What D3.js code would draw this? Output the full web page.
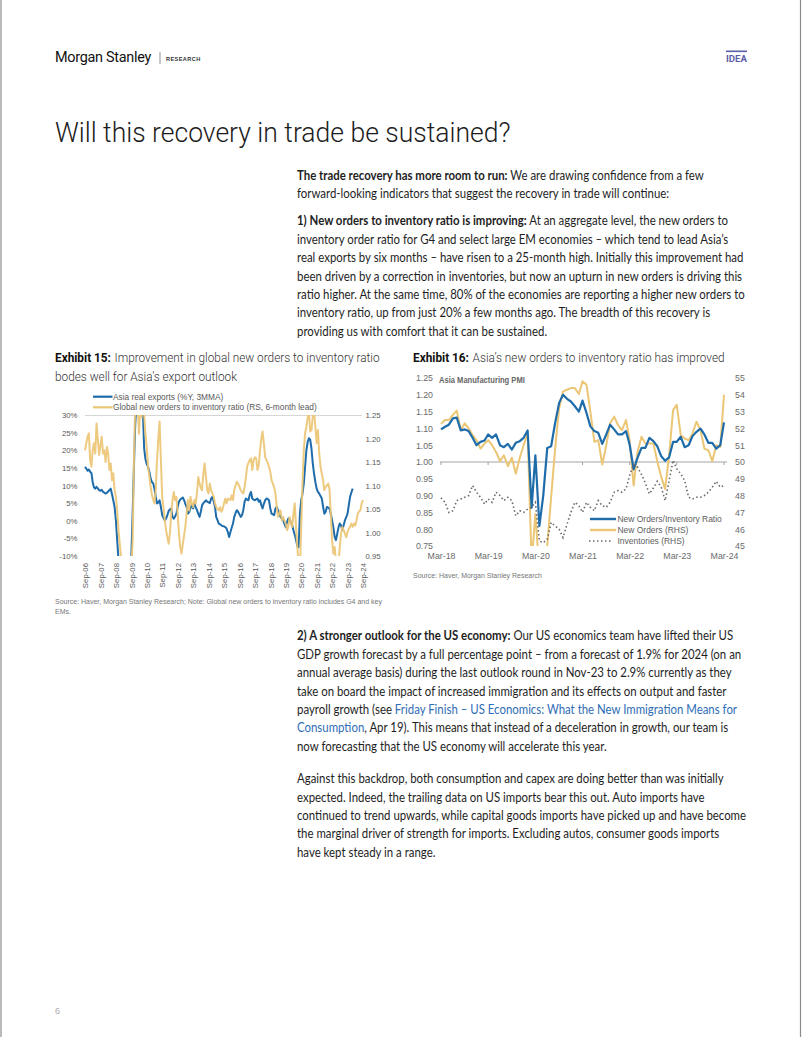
<!DOCTYPE html>
<html><head><meta charset="utf-8">
<script src="https://cdn.jsdelivr.net/npm/d3@7"></script>
<style>
html,body{margin:0;padding:0;background:#fff;}
svg{display:block;}
</style></head><body>
<svg id="page" width="802" height="1037"></svg>
<script>
// ---------------- DATA ----------------
// Exhibit 15: Asia real exports (%Y, 3MMA), left axis
const asiaExports = [
["2006-09",15.3],["2006-10",14.8],["2006-11",14.2],["2006-12",14.5],["2007-01",13.9],["2007-02",13.5],["2007-03",11.0],["2007-04",9.5],["2007-05",9.1],["2007-06",9.6],["2007-07",9.2],["2007-08",8.7],["2007-09",8.5],["2007-10",8.8],["2007-11",8.2],["2007-12",8.0],
["2008-01",7.7],["2008-02",7.9],["2008-03",8.3],["2008-04",8.7],["2008-05",9.1],["2008-06",7.5],["2008-07",5.8],["2008-08",3.9],["2008-09",0.1],["2008-10",-5.5],["2008-11",-11],["2008-12",-18],
["2009-01",-24],["2009-02",-27],["2009-03",-25],["2009-04",-22],["2009-05",-19],["2009-06",-16],["2009-07",-13],["2009-08",-11],["2009-09",-10],["2009-10",2],["2009-11",15],["2009-12",27],
["2010-01",34],["2010-02",38],["2010-03",36],["2010-04",34],["2010-05",32],["2010-06",31],["2010-07",20.5],["2010-08",17.5],["2010-09",16],["2010-10",15.3],["2010-11",13.9],["2010-12",12],
["2011-01",11],["2011-02",10.6],["2011-03",9.1],["2011-04",6.8],["2011-05",4.9],["2011-06",5.2],["2011-07",5.8],["2011-08",3.9],["2011-09",1.6],["2011-10",0.8],["2011-11",0.1],["2011-12",0.6],
["2012-01",1.6],["2012-02",2.8],["2012-03",3.2],["2012-04",3.5],["2012-05",1.1],["2012-06",0.6],["2012-07",1.2],["2012-08",2],["2012-09",3.9],["2012-10",5.4],["2012-11",6.0],["2012-12",6.3],
["2013-01",6.6],["2013-02",5.8],["2013-03",4.8],["2013-04",3.9],["2013-05",2],["2013-06",2.5],["2013-07",3.6],["2013-08",4.4],["2013-09",3.5],["2013-10",4.9],["2013-11",3.9],["2013-12",3.0],
["2014-01",2],["2014-02",1.1],["2014-03",2.5],["2014-04",4.4],["2014-05",5.0],["2014-06",5.4],["2014-07",5.8],["2014-08",5.4],["2014-09",5.2],["2014-10",5.0],["2014-11",6.3],["2014-12",6.8],
["2015-01",5.5],["2015-02",3.9],["2015-03",1.1],["2015-04",0.2],["2015-05",-0.8],["2015-06",-1.0],["2015-07",-1.3],["2015-08",-1.5],["2015-09",-1.6],["2015-10",-1.8],["2015-11",-2.2],["2015-12",-3.2],
["2016-01",-4.6],["2016-02",-3.2],["2016-03",-2.0],["2016-04",-0.8],["2016-05",1.1],["2016-06",2.2],["2016-07",3.0],["2016-08",2.5],["2016-09",1.8],["2016-10",1.1],["2016-11",1.6],["2016-12",3.0],
["2017-01",5.4],["2017-02",6.3],["2017-03",6.0],["2017-04",5.8],["2017-05",7.3],["2017-06",8.2],["2017-07",6.3],["2017-08",6.0],["2017-09",5.8],["2017-10",6.1],["2017-11",6.3],["2017-12",5.4],
["2018-01",5.8],["2018-02",4.4],["2018-03",3.5],["2018-04",4.8],["2018-05",5.8],["2018-06",6.3],["2018-07",6.2],["2018-08",5.8],["2018-09",3.5],["2018-10",2.0],["2018-11",1.8],["2018-12",1.6],
["2019-01",3.5],["2019-02",3.9],["2019-03",3.0],["2019-04",2.0],["2019-05",1.1],["2019-06",0.6],["2019-07",0.1],["2019-08",-0.8],["2019-09",-1.8],["2019-10",-0.4],["2019-11",0.6],["2019-12",0.3],
["2020-01",-0.4],["2020-02",-1.3],["2020-03",-2.7],["2020-04",-4.0],["2020-05",-5.5],["2020-06",-7.2],["2020-07",-7.5],["2020-08",2],["2020-09",5.8],["2020-10",7.7],["2020-11",10.6],["2020-12",15.3],
["2021-01",20],["2021-02",22.4],["2021-03",23.4],["2021-04",23],["2021-05",20.5],["2021-06",16.3],["2021-07",13.4],["2021-08",11],["2021-09",9.1],["2021-10",8.2],["2021-11",7.7],["2021-12",7.0],
["2022-01",6.3],["2022-02",3.9],["2022-03",2],["2022-04",2.5],["2022-05",3.9],["2022-06",3.7],["2022-07",3.5],["2022-08",2],["2022-09",0.1],["2022-10",-1.8],["2022-11",-4.6],["2022-12",-5.5],
["2023-01",-3.7],["2023-02",-1.8],["2023-03",-0.8],["2023-04",-1.3],["2023-05",-2.7],["2023-06",-1.3],["2023-07",0.1],["2023-08",1.0],["2023-09",2],["2023-10",4.4],["2023-11",6.8],["2023-12",8.0],
["2024-01",9.1]
];
// Exhibit 15: Global new orders to inventory ratio (RS, 6-month lead)
const globalNoInv = [
["2006-09",1.175],["2006-10",1.19],["2006-11",1.204],["2006-12",1.211],["2007-01",1.154],["2007-02",1.14],["2007-03",1.175],["2007-04",1.19],["2007-05",1.168],["2007-06",1.232],["2007-07",1.197],["2007-08",1.165],["2007-09",1.186],["2007-10",1.204],["2007-11",1.168],["2007-12",1.175],
["2008-01",1.15],["2008-02",1.182],["2008-03",1.168],["2008-04",1.133],["2008-05",1.147],["2008-06",1.111],["2008-07",1.126],["2008-08",1.09],["2008-09",1.076],["2008-10",1.047],["2008-11",1.005],["2008-12",0.976],
["2009-01",0.948],["2009-02",0.90],["2009-03",0.86],["2009-04",0.84],["2009-05",0.85],["2009-06",0.88],["2009-07",0.92],["2009-08",0.93],["2009-09",0.93],["2009-10",0.98],["2009-11",1.15],["2009-12",1.27],
["2010-01",1.30],["2010-02",1.26],["2010-03",1.21],["2010-04",1.27],["2010-05",1.245],["2010-06",1.28],["2010-07",1.25],["2010-08",1.21],["2010-09",1.18],["2010-10",1.14],["2010-11",1.12],["2010-12",1.097],
["2011-01",1.08],["2011-02",1.069],["2011-03",1.062],["2011-04",1.09],["2011-05",1.154],["2011-06",1.20],["2011-07",1.236],["2011-08",1.154],["2011-09",1.076],["2011-10",1.054],["2011-11",1.026],["2011-12",1.005],
["2012-01",0.99],["2012-02",0.976],["2012-03",0.998],["2012-04",1.04],["2012-05",1.069],["2012-06",1.086],["2012-07",1.069],["2012-08",1.076],["2012-09",1.04],["2012-10",0.998],["2012-11",0.969],["2012-12",0.955],
["2013-01",0.976],["2013-02",0.995],["2013-03",1.012],["2013-04",1.04],["2013-05",1.069],["2013-06",1.047],["2013-07",1.076],["2013-08",1.062],["2013-09",1.054],["2013-10",1.069],["2013-11",1.062],["2013-12",1.083],
["2014-01",1.118],["2014-02",1.104],["2014-03",1.095],["2014-04",1.09],["2014-05",1.126],["2014-06",1.147],["2014-07",1.118],["2014-08",1.09],["2014-09",1.083],["2014-10",1.104],["2014-11",1.09],["2014-12",1.083],
["2015-01",1.076],["2015-02",1.062],["2015-03",1.054],["2015-04",1.05],["2015-05",1.047],["2015-06",1.054],["2015-07",1.044],["2015-08",1.05],["2015-09",1.062],["2015-10",1.072],["2015-11",1.062],["2015-12",1.072],
["2016-01",1.07],["2016-02",1.069],["2016-03",1.079],["2016-04",1.069],["2016-05",1.09],["2016-06",1.10],["2016-07",1.108],["2016-08",1.104],["2016-09",1.097],["2016-10",1.09],["2016-11",1.086],["2016-12",1.083],
["2017-01",1.097],["2017-02",1.118],["2017-03",1.14],["2017-04",1.148],["2017-05",1.154],["2017-06",1.158],["2017-07",1.133],["2017-08",1.154],["2017-09",1.16],["2017-10",1.158],["2017-11",1.133],["2017-12",1.143],
["2018-01",1.175],["2018-02",1.20],["2018-03",1.215],["2018-04",1.19],["2018-05",1.161],["2018-06",1.154],["2018-07",1.148],["2018-08",1.14],["2018-09",1.129],["2018-10",1.111],["2018-11",1.104],["2018-12",1.095],
["2019-01",1.083],["2019-02",1.054],["2019-03",1.033],["2019-04",1.04],["2019-05",1.047],["2019-06",1.026],["2019-07",1.033],["2019-08",1.025],["2019-09",1.019],["2019-10",1.005],["2019-11",1.012],["2019-12",1.033],
["2020-01",1.02],["2020-02",1.012],["2020-03",1.04],["2020-04",1.062],["2020-05",1.012],["2020-06",0.969],["2020-07",0.93],["2020-08",0.92],["2020-09",1.012],["2020-10",1.104],["2020-11",1.175],["2020-12",1.21],
["2021-01",1.225],["2021-02",1.245],["2021-03",1.26],["2021-04",1.215],["2021-05",1.218],["2021-06",1.246],["2021-07",1.26],["2021-08",1.225],["2021-09",1.19],["2021-10",1.218],["2021-11",1.168],["2021-12",1.14],
["2022-01",1.125],["2022-02",1.111],["2022-03",1.09],["2022-04",1.097],["2022-05",1.10],["2022-06",1.104],["2022-07",1.093],["2022-08",1.04],["2022-09",0.983],["2022-10",0.955],["2022-11",0.969],["2022-12",0.94],
["2023-01",0.92],["2023-02",0.93],["2023-03",0.969],["2023-04",0.998],["2023-05",1.012],["2023-06",1.005],["2023-07",0.998],["2023-08",0.99],["2023-09",1.001],["2023-10",1.008],["2023-11",1.012],["2023-12",1.019],
["2024-01",1.012],["2024-02",1.019],["2024-03",1.015],["2024-04",1.026],["2024-05",1.04],["2024-06",1.045],["2024-07",1.047],["2024-08",1.062],["2024-09",1.069]
];
const yTicks15L = [30,25,20,15,10,5,0,-5,-10];
const yTicks15R = [1.25,1.20,1.15,1.10,1.05,1.00,0.95];
const xLabels15 = ["Sep-06","Sep-07","Sep-08","Sep-09","Sep-10","Sep-11","Sep-12","Sep-13","Sep-14","Sep-15","Sep-16","Sep-17","Sep-18","Sep-19","Sep-20","Sep-21","Sep-22","Sep-23","Sep-24"];

// Exhibit 16: Asia Manufacturing PMI, monthly from Mar-18 to Mar-24
const pmiStart = "2018-03";
const noInvRatio = [1.097,1.105,1.111,1.13,1.132,1.094,1.097,1.092,1.072,1.05,1.06,1.064,
 1.082,1.072,1.082,1.05,1.044,1.054,1.037,1.057,1.062,1.072,1.094,0.864,
 1.02,0.81,0.90,1.042,1.047,1.116,1.176,1.2,1.188,1.18,1.166,1.15,
 1.183,1.146,1.106,1.092,1.087,1.054,1.082,1.111,1.097,1.082,1.082,1.092,
 1.052,0.978,1.012,1.042,1.042,1.072,1.062,1.047,1.017,1.004,1.014,1.06,
 1.06,1.075,1.044,1.05,1.077,1.09,1.099,1.082,1.057,1.057,1.04,1.05,1.118];
const newOrders = [52.27,52.5,52.5,52.8,53.06,51.9,52.3,52.0,51.6,51.3,50.8,51.1,
 51.3,51.0,50.6,50.05,50.4,49.75,50.25,49.3,50.25,51.0,51.7,44.0,
 46.9,43.5,44.0,45.0,47.9,50.8,53.2,54.2,54.3,54.4,54.4,54.05,
 54.8,54.6,53.0,51.2,51.3,49.85,51.0,52.3,52.7,52.2,51.9,52.5,
 51.3,48.6,50.6,51.5,51.1,51.1,51.1,50.05,49.1,48.4,50.4,53.1,
 53.4,51.6,51.4,51.3,51.7,52.4,51.9,50.8,50.7,50.05,51.0,50.9,54.0];
const inventories = [47.87,47.6,47.0,47.1,47.7,47.8,47.9,48.0,48.6,48.2,47.9,47.5,
 47.8,47.6,48.2,48.0,47.7,47.9,47.7,46.8,47.1,47.0,47.2,47.3,
 47.6,45.3,45.2,45.4,46.4,46.2,46.0,45.5,46.3,47.0,47.6,47.4,
 47.0,47.6,47.3,47.1,47.7,47.4,47.3,47.6,48.2,48.3,48.2,48.4,
 49.2,49.85,49.7,49.25,48.75,48.1,48.45,48.85,48.5,47.7,48.9,50.1,
 49.6,49.3,48.9,47.9,47.8,47.9,47.9,48.0,48.2,48.5,48.85,48.5,48.6];
const yTicks16L = [1.25,1.20,1.15,1.10,1.05,1.00,0.95,0.90,0.85,0.80,0.75];
const yTicks16R = [55,54,53,52,51,50,49,48,47,46,45];
const xLabels16 = ["Mar-18","Mar-19","Mar-20","Mar-21","Mar-22","Mar-23","Mar-24"];

// ---------------- TEXT ----------------
const para1 = [
 [["The trade recovery has more room to run:","b"],[" We are drawing confidence from a few"]],
 [["forward-looking indicators that suggest the recovery in trade will continue:"]]
];
const para2 = [
 [["1) New orders to inventory ratio is improving:","b"],[" At an aggregate level, the new orders to"]],
 [["inventory order ratio for G4 and select large EM economies – which tend to lead Asia’s"]],
 [["real exports by six months – have risen to a 25-month high. Initially this improvement had"]],
 [["been driven by a correction in inventories, but now an upturn in new orders is driving this"]],
 [["ratio higher. At the same time, 80% of the economies are reporting a higher new orders to"]],
 [["inventory ratio, up from just 20% a few months ago. The breadth of this recovery is"]],
 [["providing us with comfort that it can be sustained."]]
];
const para3 = [
 [["2) A stronger outlook for the US economy:","b"],[" Our US economics team have lifted their US"]],
 [["GDP growth forecast by a full percentage point – from a forecast of 1.9% for 2024 (on an"]],
 [["annual average basis) during the last outlook round in Nov-23 to 2.9% currently as they"]],
 [["take on board the impact of increased immigration and its effects on output and faster"]],
 [["payroll growth (see "],["Friday Finish – US Economics: What the New Immigration Means for","l"]],
 [["Consumption","l"],[", Apr 19). This means that instead of a deceleration in growth, our team is"]],
 [["now forecasting that the US economy will accelerate this year."]]
];
const para4 = [
 [["Against this backdrop, both consumption and capex are doing better than was initially"]],
 [["expected. Indeed, the trailing data on US imports bear this out. Auto imports have"]],
 [["continued to trend upwards, while capital goods imports have picked up and have become"]],
 [["the marginal driver of strength for imports. Excluding autos, consumer goods imports"]],
 [["have kept steady in a range."]]
];

// ---------------- DRAW ----------------
const svg = d3.select("#page");
const BODY = "Lato, 'Open Sans', sans-serif";
const ROBOTO = "Roboto, 'Liberation Sans', sans-serif";
const CHART = "'Liberation Sans', Arial, sans-serif";
const BLUE = "#1f6cab", GOLD = "#ebc675";

svg.append("line").attr("x1",1).attr("x2",1).attr("y1",0).attr("y2",1037).attr("stroke","#8c8c8c").attr("stroke-width",1.2);
svg.append("line").attr("x1",800.5).attr("x2",800.5).attr("y1",0).attr("y2",1037).attr("stroke","#8c8c8c").attr("stroke-width",1.2);

function fitSize(t, target){ const w=t.node().getComputedTextLength(); const fs=parseFloat(t.attr("font-size")); t.attr("font-size", fs*target/w); }
function fitX(t, x, target){ const w=t.node().getComputedTextLength(); t.attr("transform",`translate(${x},0) scale(${target/w},1) translate(${-x},0)`); }

// header
const ms = svg.append("text").attr("x",55).attr("y",62).attr("font-family","Roboto, sans-serif").attr("font-size",14.5).attr("fill","#111").attr("letter-spacing",-0.3).text("Morgan Stanley");
fitX(ms,55,96);
svg.append("line").attr("x1",160).attr("x2",160).attr("y1",52).attr("y2",64).attr("stroke","#777").attr("stroke-width",0.8);
svg.append("text").attr("x",166).attr("y",60.5).attr("font-family",CHART).attr("font-weight",700).attr("font-size",5.6).attr("letter-spacing",0.4).attr("fill","#333").text("RESEARCH");
svg.append("rect").attr("x",726).attr("y",50.5).attr("width",21).attr("height",1.6).attr("fill","#5b5ea8");
const idea = svg.append("text").attr("x",726).attr("y",62).attr("font-family",ROBOTO).attr("font-weight",700).attr("font-size",9.5).attr("fill","#5b5ea8").text("IDEA");
fitX(idea,726,21);

// title
const title = svg.append("text").attr("x",55).attr("y",142).attr("font-family",ROBOTO).attr("font-weight",300).attr("font-size",28.5).attr("fill","#1c1c1c").text("Will this recovery in trade be sustained?");
fitX(title,55,456);

// body text: common horizontal scale determined from the widest line
function measure(lines, idx){
  const t = svg.append("text").attr("font-family",BODY).attr("font-size",13.2);
  lines[idx].forEach(s=>{ const ts=t.append("tspan").text(s[0]); if(s[1]==="b") ts.attr("font-weight",700); });
  const w=t.node().getComputedTextLength(); t.remove(); return w;
}
const bodyScale = 448/measure(para2,4);
function block(x,y0,lh,lines){
  const g = svg.append("g").attr("transform",`translate(${x},0) scale(${bodyScale},1)`);
  lines.forEach((segs,i)=>{
    const t = g.append("text").attr("x",0).attr("y",y0+i*lh).attr("font-family",BODY).attr("font-size",13.2).attr("fill","#1e1e1e");
    segs.forEach(s=>{ const ts=t.append("tspan").text(s[0]); if(s[1]==="b") ts.attr("font-weight",700); if(s[1]==="l") ts.attr("fill","#2f6db6"); });
  });
}
block(297,180,18.4,para1);
block(297,225.5,18.4,para2);
block(297,640.5,18.4,para3);
block(297,783.5,18.3,para4);

// exhibit titles
function exhibit(x, y, num, rest, target, line2){
  const g = svg.append("g");
  const t = g.append("text").attr("x",0).attr("y",y).attr("font-family",ROBOTO).attr("font-size",13).attr("fill","#222");
  t.append("tspan").attr("font-weight",700).attr("fill","#111").text(num);
  t.append("tspan").attr("dx",4).attr("font-weight",300).attr("fill","#333").text(rest);
  const w=t.node().getComputedTextLength()+4;
  const s=target/w;
  if(line2) g.append("text").attr("x",0).attr("y",y+19).attr("font-family",ROBOTO).attr("font-weight",300).attr("font-size",13).attr("fill","#333").text(line2);
  g.attr("transform",`translate(${x},0) scale(${s},1)`);
}
exhibit(55,362,"Exhibit 15:","Improvement in global new orders to inventory ratio",325,"bodes well for Asia’s export outlook");
exhibit(413,362,"Exhibit 16:","Asia’s new orders to inventory ratio has improved",312,null);

// ---------------- CHART 15 ----------------
const parseM = d3.timeParse("%Y-%m");
const parseL = d3.timeParse("%b-%y");
const x15 = d3.scaleTime().domain([parseL(xLabels15[0]), parseL(xLabels15[xLabels15.length-1])]).range([85,363]);
const yL15 = d3.scaleLinear().domain([-10,30]).range([556,415]);
const yR15 = d3.scaleLinear().domain([0.95,1.25]).range([556,415]);
const c15 = svg.append("g");
c15.append("line").attr("x1",85).attr("x2",362).attr("y1",yL15(30)+0.5).attr("y2",yL15(30)+0.5).attr("stroke","#d6d6d6").attr("stroke-width",1);
svg.append("clipPath").attr("id","clip15").append("rect").attr("x",60).attr("y",415).attr("width",320).attr("height",141);
const axL15 = c15.append("g").attr("transform","translate(85,0)").call(d3.axisLeft(yL15).tickValues(yTicks15L).tickFormat(d=>d+"%").tickSize(0).tickPadding(7.5));
const axR15 = c15.append("g").attr("transform","translate(363,0)").call(d3.axisRight(yR15).tickValues(yTicks15R).tickFormat(d3.format(".2f")).tickSize(0).tickPadding(2.5));
const axB15 = c15.append("g").attr("transform","translate(0,563)").call(d3.axisBottom(x15).tickValues(xLabels15.map(parseL)).tickFormat(d3.timeFormat("%b-%y")).tickSize(0));
[axL15,axR15,axB15].forEach(a=>{ a.select(".domain").remove(); a.selectAll("text").attr("font-family",CHART).attr("font-size",7.8).attr("fill","#595959"); });
axB15.selectAll("text").attr("transform","rotate(-90)").attr("text-anchor","end").attr("x",0).attr("y",0).attr("dy","0.35em");
const lines15 = c15.append("g").attr("clip-path","url(#clip15)");
lines15.append("path").datum(asiaExports).attr("fill","none").attr("stroke",BLUE).attr("stroke-width",2).attr("stroke-linejoin","round")
  .attr("d",d3.line().x(d=>x15(parseM(d[0]))).y(d=>yL15(d[1])));
lines15.append("path").datum(globalNoInv).attr("fill","none").attr("stroke",GOLD).attr("stroke-width",2).attr("stroke-opacity",0.92).attr("stroke-linejoin","round")
  .attr("d",d3.line().x(d=>x15(parseM(d[0]))).y(d=>yR15(d[1])));
// legend
c15.append("line").attr("x1",93).attr("x2",112.5).attr("y1",396.7).attr("y2",396.7).attr("stroke",BLUE).attr("stroke-width",2.2);
c15.append("line").attr("x1",93).attr("x2",112.5).attr("y1",407.3).attr("y2",407.3).attr("stroke",GOLD).attr("stroke-width",2.2);
const lg1 = c15.append("text").attr("x",113).attr("y",399.6).attr("font-family",CHART).attr("font-size",8).attr("fill","#595959").text("Asia real exports (%Y, 3MMA)");
const lg2 = c15.append("text").attr("x",113).attr("y",410.2).attr("font-family",CHART).attr("font-size",8).attr("fill","#595959").text("Global new orders to inventory ratio (RS, 6-month lead)");
fitSize(lg2,204); lg1.attr("font-size", lg2.attr("font-size"));
const src15 = svg.append("text").attr("x",55).attr("y",604).attr("font-family",CHART).attr("font-size",6.8).attr("fill","#777").text("Source: Haver, Morgan Stanley Research; Note: Global new orders to inventory ratio includes G4 and key");
fitSize(src15,327);
svg.append("text").attr("x",55).attr("y",613.5).attr("font-family",CHART).attr("font-size",src15.attr("font-size")).attr("fill","#777").text("EMs.");

// ---------------- CHART 16 ----------------
const d16 = i => d3.timeMonth.offset(parseM(pmiStart), i);
const x16 = d3.scaleTime().domain([parseL(xLabels16[0]), parseL(xLabels16[xLabels16.length-1])]).range([441,724]);
const yL16 = d3.scaleLinear().domain([0.75,1.25]).range([546,378]);
const yR16 = d3.scaleLinear().domain([45,55]).range([546,378]);
const c16 = svg.append("g");
svg.append("clipPath").attr("id","clip16").append("rect").attr("x",436).attr("y",378).attr("width",296).attr("height",168);
const axL16 = c16.append("g").attr("transform","translate(441,0)").call(d3.axisLeft(yL16).tickValues(yTicks16L).tickFormat(d3.format(".2f")).tickSize(0).tickPadding(8));
const axR16 = c16.append("g").attr("transform","translate(727,0)").call(d3.axisRight(yR16).tickValues(yTicks16R).tickFormat(d3.format("d")).tickSize(0).tickPadding(8));
const axB16 = c16.append("g").attr("transform","translate(0,548)").call(d3.axisBottom(x16).tickValues(xLabels16.map(parseL)).tickFormat(d3.timeFormat("%b-%y")).tickSize(0).tickPadding(5));
[axL16,axR16,axB16].forEach(a=>{ a.select(".domain").remove(); a.selectAll("text").attr("font-family",CHART).attr("font-size",8.8).attr("fill","#6b6b6b"); });
// 1.00 line with year ticks
c16.append("line").attr("x1",440).attr("x2",727).attr("y1",yL16(1)).attr("y2",yL16(1)).attr("stroke","#a3a3a3").attr("stroke-width",1.1);
c16.append("g").selectAll("line").data(xLabels16.map(parseL)).join("line")
  .attr("x1",d=>x16(d)).attr("x2",d=>x16(d)).attr("y1",yL16(1)).attr("y2",yL16(1)+3).attr("stroke","#a3a3a3").attr("stroke-width",1);
const lines16 = c16.append("g").attr("clip-path","url(#clip16)");
lines16.append("path").datum(newOrders).attr("fill","none").attr("stroke",GOLD).attr("stroke-width",2).attr("stroke-linejoin","round")
  .attr("d",d3.line().x((d,i)=>x16(d16(i))).y(d=>yR16(d)));
lines16.append("path").datum(noInvRatio).attr("fill","none").attr("stroke",BLUE).attr("stroke-width",2.2).attr("stroke-linejoin","round")
  .attr("d",d3.line().x((d,i)=>x16(d16(i))).y(d=>yL16(d)));
lines16.append("path").datum(inventories).attr("fill","none").attr("stroke","#6a6a6a").attr("stroke-width",1.6).attr("stroke-dasharray","1.5,2.5")
  .attr("d",d3.line().x((d,i)=>x16(d16(i))).y(d=>yR16(d)));
const pmiT = c16.append("text").attr("x",439).attr("y",383).attr("font-family",CHART).attr("font-weight",700).attr("font-size",9.3).attr("fill","#666").text("Asia Manufacturing PMI");
fitX(pmiT,439,86);
// legend
c16.append("line").attr("x1",590).attr("x2",616).attr("y1",519).attr("y2",519).attr("stroke",BLUE).attr("stroke-width",2.4);
c16.append("line").attr("x1",590).attr("x2",616).attr("y1",530).attr("y2",530).attr("stroke",GOLD).attr("stroke-width",2.4);
c16.append("line").attr("x1",589).attr("x2",613).attr("y1",541).attr("y2",541).attr("stroke","#6a6a6a").attr("stroke-width",1.6).attr("stroke-dasharray","1.5,2.5");
const l16a = c16.append("text").attr("x",617.5).attr("y",522.2).attr("font-family",CHART).attr("font-size",9).attr("fill","#606060").text("New Orders/Inventory Ratio");
fitSize(l16a,104.5);
c16.append("text").attr("x",617.5).attr("y",533.2).attr("font-family",CHART).attr("font-size",l16a.attr("font-size")).attr("fill","#606060").text("New Orders (RHS)");
c16.append("text").attr("x",617.5).attr("y",544.2).attr("font-family",CHART).attr("font-size",l16a.attr("font-size")).attr("fill","#606060").text("Inventories (RHS)");
const src16 = svg.append("text").attr("x",413).attr("y",578).attr("font-family",CHART).attr("font-size",6.8).attr("fill","#777").text("Source: Haver, Morgan Stanley Research");
fitSize(src16,129);

// page number
svg.append("text").attr("x",55).attr("y",1014).attr("font-family",CHART).attr("font-size",9).attr("fill","#aaa").text("6");
</script></body></html>
